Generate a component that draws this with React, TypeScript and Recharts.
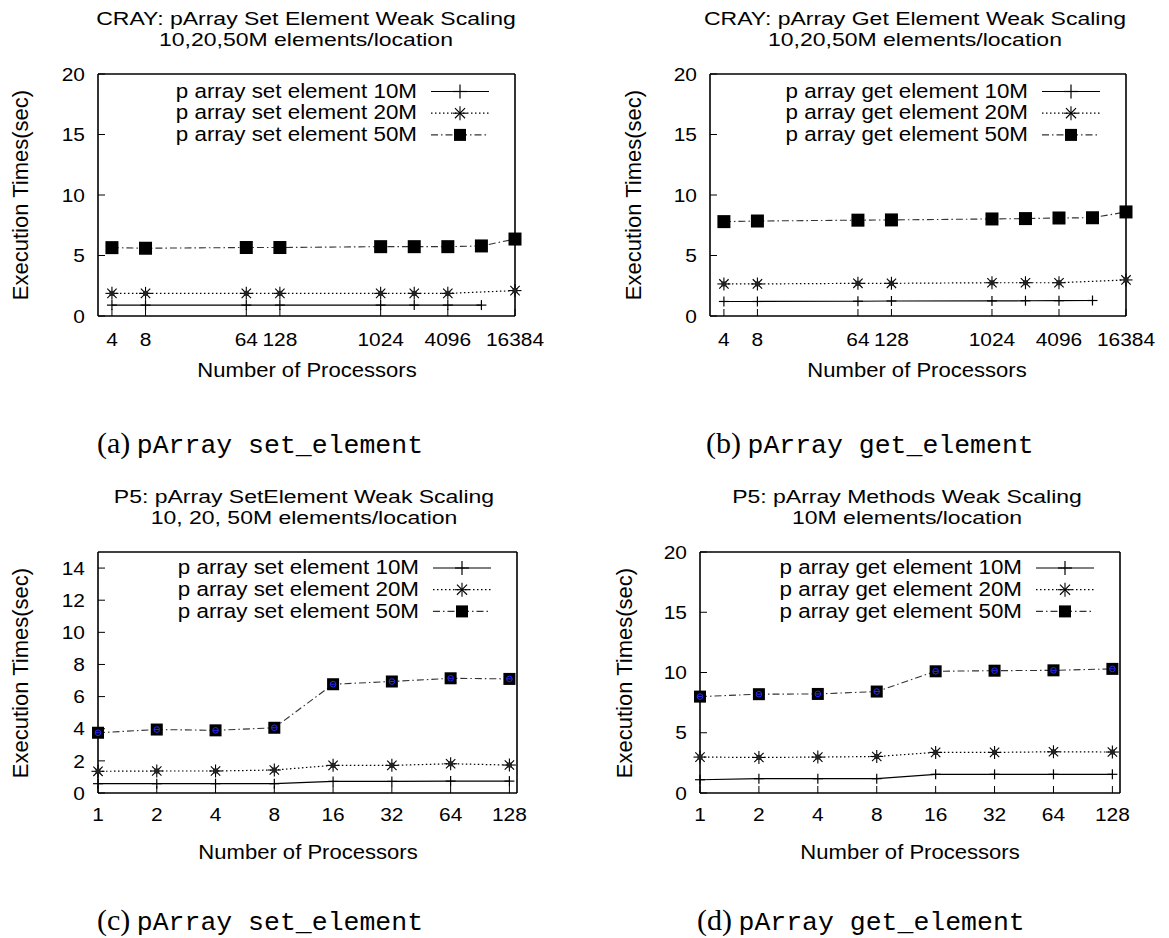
import React from "react";
import { LineChart, Line, XAxis, YAxis, Legend } from "recharts";

const FONT = '"Liberation Sans", Arial, Helvetica, sans-serif';
const SERIF = '"Liberation Serif", "DejaVu Serif", serif';
const MONO = '"Liberation Mono", "DejaVu Sans Mono", monospace';

// gnuplot text here is a bit wider than Liberation Sans, so widen it a little
const FS_TICK = 19;
const TICK_SX = 1.1;
const FS_TITLE = 18.7;
const TITLE_SX = 1.23;
const TITLE_LH = 21;
const FS_LEGEND = 19.3;
const LEGEND_SX = 1.16;
const LEGEND_LH = 21.7;
const FS_LABEL = 21;
const LABEL_SX = 1.05;

// CRAY runs (panels a, b)
const CRAY_PROCS = [4, 8, 64, 128, 1024, 2048, 4096, 8192, 16384];
const CRAY_PROCS_10M = [4, 8, 64, 128, 1024, 2048, 4096, 8192];
const CRAY_PROCS_20M = [4, 8, 64, 128, 1024, 2048, 4096, 16384];
const CRAY_TICKS = [4, 8, 64, 128, 1024, 4096, 16384];

const CRAY_SET_10M = [0.9, 0.9, 0.9, 0.9, 0.9, 0.9, 0.9, 0.9];
const CRAY_SET_20M = [1.87, 1.87, 1.87, 1.87, 1.87, 1.87, 1.87, 2.1];
const CRAY_SET_50M = [5.65, 5.6, 5.66, 5.66, 5.73, 5.73, 5.73, 5.79, 6.36];

const CRAY_GET_10M = [1.2, 1.2, 1.22, 1.24, 1.25, 1.26, 1.27, 1.28];
const CRAY_GET_20M = [2.65, 2.65, 2.7, 2.7, 2.75, 2.75, 2.75, 2.98];
const CRAY_GET_50M = [7.8, 7.85, 7.92, 7.94, 8.02, 8.05, 8.1, 8.12, 8.6];

// P5 runs (panels c, d)
const P5_PROCS = [1, 2, 4, 8, 16, 32, 64, 128];

const P5_SET_10M = [0.58, 0.58, 0.58, 0.58, 0.72, 0.72, 0.74, 0.74];
const P5_SET_20M = [1.35, 1.37, 1.37, 1.43, 1.72, 1.72, 1.82, 1.74];
const P5_SET_50M = [3.75, 3.95, 3.9, 4.06, 6.77, 6.94, 7.14, 7.1];

const P5_GET_10M = [1.1, 1.19, 1.19, 1.19, 1.55, 1.55, 1.55, 1.55];
const P5_GET_20M = [2.98, 2.95, 2.98, 3.03, 3.37, 3.37, 3.42, 3.4];
const P5_GET_50M = [8.0, 8.2, 8.22, 8.42, 10.1, 10.15, 10.18, 10.3];

const SET_LABELS = ["p array set element 10M", "p array set element 20M", "p array set element 50M"];
const GET_LABELS = ["p array get element 10M", "p array get element 20M", "p array get element 50M"];

const Y_TICKS_20 = [0, 5, 10, 15, 20];
const Y_TICKS_15 = [0, 2, 4, 6, 8, 10, 12, 14];

type Series = { label: string; procs: number[]; times: number[] };
type Panel = {
  id: string;
  plot: { left: number; top: number; right: number; bottom: number };
  xDomain: [number, number];
  xTicks: number[];
  yDomain: [number, number];
  yTicks: number[];
  series: Series[];
  title: string[];
  titleX: number;
  yLabelX: number;
  xLabelX: number;
  xLabelY: number;
  caption: [string, string];
  captionX: number;
  captionY: number;
  xTickMargin: number;
  legendTop: number;
  p5: boolean;
};

const PANELS: Panel[] = [
  {
    id: "a",
    plot: { left: 98, top: 74, right: 515, bottom: 316 },
    xDomain: [3, 16384],
    xTicks: CRAY_TICKS,
    yDomain: [0, 20],
    yTicks: Y_TICKS_20,
    series: [
      { label: SET_LABELS[0], procs: CRAY_PROCS_10M, times: CRAY_SET_10M },
      { label: SET_LABELS[1], procs: CRAY_PROCS_20M, times: CRAY_SET_20M },
      { label: SET_LABELS[2], procs: CRAY_PROCS, times: CRAY_SET_50M },
    ],
    title: ["CRAY: pArray Set Element Weak Scaling", "10,20,50M elements/location"],
    titleX: 306,
    yLabelX: 21,
    xLabelX: 307,
    xLabelY: 369,
    caption: ["(a)", "pArray set_element"],
    captionX: 97,
    captionY: 444,
    xTickMargin: 24,
    legendTop: 17.5,
    p5: false,
  },
  {
    id: "b",
    plot: { left: 710, top: 74, right: 1126, bottom: 316 },
    xDomain: [3, 16384],
    xTicks: CRAY_TICKS,
    yDomain: [0, 20],
    yTicks: Y_TICKS_20,
    series: [
      { label: GET_LABELS[0], procs: CRAY_PROCS_10M, times: CRAY_GET_10M },
      { label: GET_LABELS[1], procs: CRAY_PROCS_20M, times: CRAY_GET_20M },
      { label: GET_LABELS[2], procs: CRAY_PROCS, times: CRAY_GET_50M },
    ],
    title: ["CRAY: pArray Get Element Weak Scaling", "10,20,50M elements/location"],
    titleX: 915,
    yLabelX: 634,
    xLabelX: 917,
    xLabelY: 369,
    caption: ["(b)", "pArray get_element"],
    captionX: 706,
    captionY: 444,
    xTickMargin: 24,
    legendTop: 17.5,
    p5: false,
  },
  {
    id: "c",
    plot: { left: 98, top: 552, right: 517, bottom: 793 },
    xDomain: [1, 140],
    xTicks: P5_PROCS,
    yDomain: [0, 15],
    yTicks: Y_TICKS_15,
    series: [
      { label: SET_LABELS[0], procs: P5_PROCS, times: P5_SET_10M },
      { label: SET_LABELS[1], procs: P5_PROCS, times: P5_SET_20M },
      { label: SET_LABELS[2], procs: P5_PROCS, times: P5_SET_50M },
    ],
    title: ["P5: pArray SetElement Weak Scaling", "10, 20, 50M elements/location"],
    titleX: 304,
    yLabelX: 21,
    xLabelX: 308,
    xLabelY: 851,
    caption: ["(c)", "pArray set_element"],
    captionX: 97,
    captionY: 921,
    xTickMargin: 22,
    legendTop: 16,
    p5: true,
  },
  {
    id: "d",
    plot: { left: 700, top: 552, right: 1120, bottom: 793 },
    xDomain: [1, 140],
    xTicks: P5_PROCS,
    yDomain: [0, 20],
    yTicks: Y_TICKS_20,
    series: [
      { label: GET_LABELS[0], procs: P5_PROCS, times: P5_GET_10M },
      { label: GET_LABELS[1], procs: P5_PROCS, times: P5_GET_20M },
      { label: GET_LABELS[2], procs: P5_PROCS, times: P5_GET_50M },
    ],
    title: ["P5: pArray Methods Weak Scaling", "10M elements/location"],
    titleX: 907,
    yLabelX: 625,
    xLabelX: 910,
    xLabelY: 851,
    caption: ["(d)", "pArray get_element"],
    captionX: 697,
    captionY: 921,
    xTickMargin: 22,
    legendTop: 16,
    p5: true,
  },
];

const LINE_STYLES = [
  { stroke: "#000", strokeWidth: 1.2 },
  { stroke: "#000", strokeWidth: 1.2, strokeDasharray: "1.5 2.5" },
  { stroke: "#333", strokeWidth: 1.1, strokeDasharray: "7 3 1.5 3" },
];

const AXIS_LINE = { stroke: "#000", strokeWidth: 1.6 };
const TICK_LINE = { stroke: "#000", strokeWidth: 1 };

function StretchTick(props: any) {
  const { x, y, payload, textAnchor, verticalAnchor } = props;
  const dy = verticalAnchor === "start" ? "0.71em" : "0.355em";
  return (
    <g transform={`translate(${x},${y}) scale(${TICK_SX},1)`}>
      <text x={0} y={0} dy={dy} textAnchor={textAnchor} fill="#000" fontSize={FS_TICK} fontFamily={FONT}>
        {payload.value}
      </text>
    </g>
  );
}

function Plus({ cx, cy, r }: { cx: number; cy: number; r: number }) {
  return (
    <g stroke="#000" strokeWidth={1.2}>
      <line x1={cx - r} y1={cy} x2={cx + r} y2={cy} />
      <line x1={cx} y1={cy - r} x2={cx} y2={cy + r} />
    </g>
  );
}

function Star({ cx, cy, r, core }: { cx: number; cy: number; r: number; core: boolean }) {
  const d = r * 0.72;
  return (
    <g stroke="#000" strokeWidth={1.1}>
      <line x1={cx - r} y1={cy} x2={cx + r} y2={cy} />
      <line x1={cx} y1={cy - r} x2={cx} y2={cy + r} />
      <line x1={cx - d} y1={cy - d} x2={cx + d} y2={cy + d} />
      <line x1={cx - d} y1={cy + d} x2={cx + d} y2={cy - d} />
      {core && <rect x={cx - 2.5} y={cy - 2.5} width={5} height={5} fill="#222" stroke="none" />}
    </g>
  );
}

function Square({ cx, cy, s, theta }: { cx: number; cy: number; s: number; theta: boolean }) {
  return (
    <g>
      <rect x={cx - s / 2} y={cy - s / 2} width={s} height={s} fill="#000" />
      {theta && (
        <g stroke="#2a2aff" strokeWidth={1} fill="none">
          <circle cx={cx} cy={cy} r={2.8} />
          <line x1={cx - 2.4} y1={cy} x2={cx + 2.4} y2={cy} />
        </g>
      )}
    </g>
  );
}

function marker(i: number, cx: number, cy: number, p5: boolean, legend: boolean, key?: string) {
  if (i === 0) return <Plus key={key} cx={cx} cy={cy} r={legend ? 7 : 5} />;
  if (i === 1) return <Star key={key} cx={cx} cy={cy} r={legend ? 7 : 6.5} core={!legend} />;
  return <Square key={key} cx={cx} cy={cy} s={legend ? 12 : p5 ? 12 : 13} theta={p5 && !legend} />;
}

// chart box offsets around the plot area
const PAD_L = 70;
const PAD_T = 30;
const PAD_R = 40;
const PAD_B = 60;

function LegendBox({ cfg, W, H }: { cfg: Panel; W: number; H: number }) {
  const R = PAD_L + (cfg.plot.right - cfg.plot.left);
  const rowY = (i: number) => PAD_T + cfg.legendTop + i * LEGEND_LH;
  return (
    <div style={{ position: "relative", width: W, height: H, pointerEvents: "none" }}>
      {cfg.series.map((s, i) => (
        <div
          key={s.label}
          style={{
            position: "absolute",
            left: 0,
            width: R - 98,
            top: rowY(i) - LEGEND_LH / 2,
            height: LEGEND_LH,
            lineHeight: `${LEGEND_LH}px`,
            textAlign: "right",
            fontFamily: FONT,
            fontSize: FS_LEGEND,
            color: "#000",
            whiteSpace: "nowrap",
            transformOrigin: "right center",
            transform: `scaleX(${LEGEND_SX})`,
          }}
        >
          {s.label}
        </div>
      ))}
      <svg width={W} height={H} style={{ position: "absolute", left: 0, top: 0, overflow: "visible" }}>
        {cfg.series.map((s, i) => (
          <g key={s.label}>
            <line x1={R - 84} x2={R - 26} y1={rowY(i)} y2={rowY(i)} {...LINE_STYLES[i]} />
            {marker(i, R - 55, rowY(i), cfg.p5, true)}
          </g>
        ))}
      </svg>
    </div>
  );
}

function Txt({
  x,
  y,
  size,
  sx = 1,
  family = FONT,
  rotate = false,
  children,
}: {
  x: number;
  y: number;
  size: number;
  sx?: number;
  family?: string;
  rotate?: boolean;
  children: React.ReactNode;
}) {
  return (
    <div
      style={{
        position: "absolute",
        left: x,
        top: y,
        fontSize: size,
        fontFamily: family,
        lineHeight: 1,
        whiteSpace: "nowrap",
        color: "#000",
        transform: `translate(-50%, -50%)${rotate ? " rotate(-90deg)" : ""} scaleX(${sx})`,
      }}
    >
      {children}
    </div>
  );
}

function ChartPanel({ cfg }: { cfg: Panel }) {
  const { plot } = cfg;
  const pw = plot.right - plot.left;
  const ph = plot.bottom - plot.top;
  const W = pw + PAD_L + PAD_R;
  const H = ph + PAD_T + PAD_B;
  const rows = cfg.series.map((s) => s.procs.map((p, i) => ({ p, t: s.times[i] })));

  return (
    <>
      <div style={{ position: "absolute", left: plot.left - PAD_L, top: plot.top - PAD_T }}>
        <LineChart
          width={W}
          height={H}
          margin={{ top: PAD_T - 1, right: PAD_R - 1, bottom: 0, left: 0 }}
          style={{ overflow: "visible" }}
        >
          <XAxis
            xAxisId={0}
            dataKey="p"
            type="number"
            scale="log"
            domain={cfg.xDomain}
            ticks={cfg.xTicks}
            interval={0}
            height={PAD_B}
            tickSize={-7}
            tickMargin={cfg.xTickMargin}
            tick={<StretchTick />}
            axisLine={AXIS_LINE}
            tickLine={TICK_LINE}
          />
          <XAxis
            xAxisId="top"
            orientation="top"
            type="number"
            scale="log"
            domain={cfg.xDomain}
            ticks={cfg.xTicks}
            interval={0}
            height={1}
            tickSize={-7}
            tick={false}
            axisLine={AXIS_LINE}
            tickLine={TICK_LINE}
          />
          <YAxis
            yAxisId={0}
            type="number"
            domain={cfg.yDomain}
            ticks={cfg.yTicks}
            interval={0}
            width={PAD_L}
            tickSize={-7}
            tickMargin={20}
            tick={<StretchTick />}
            axisLine={AXIS_LINE}
            tickLine={TICK_LINE}
          />
          <YAxis
            yAxisId="right"
            orientation="right"
            type="number"
            domain={cfg.yDomain}
            ticks={cfg.yTicks}
            interval={0}
            width={1}
            tickSize={-7}
            tick={false}
            axisLine={AXIS_LINE}
            tickLine={TICK_LINE}
          />
          {cfg.series.map((s, i) => (
            <Line
              key={s.label}
              name={s.label}
              data={rows[i]}
              dataKey="t"
              type="linear"
              {...LINE_STYLES[i]}
              dot={(d: any) => marker(i, d.cx, d.cy, cfg.p5, false, `${cfg.id}-${i}-${d.index}`)}
              activeDot={false}
              isAnimationActive={false}
            />
          ))}
          <Legend
            layout="vertical"
            align="center"
            verticalAlign="middle"
            wrapperStyle={{ left: 0, top: 0 }}
            content={() => <LegendBox cfg={cfg} W={W} H={H} />}
          />
        </LineChart>
      </div>
      {cfg.title.map((line, i) => (
        <Txt key={line} x={cfg.titleX} y={plot.top - 55 + i * TITLE_LH} size={FS_TITLE} sx={TITLE_SX}>
          {line}
        </Txt>
      ))}
      <Txt x={cfg.yLabelX} y={(plot.top + plot.bottom) / 2} size={22}>
        <div style={{ transform: "rotate(-90deg)" }}>Execution Times(sec)</div>
      </Txt>
      <Txt x={cfg.xLabelX} y={cfg.xLabelY} size={FS_LABEL} sx={LABEL_SX}>
        Number of Processors
      </Txt>
      <div
        style={{
          position: "absolute",
          left: cfg.captionX,
          top: cfg.captionY,
          transform: "translateY(-50%)",
          whiteSpace: "nowrap",
          lineHeight: 1,
          color: "#000",
        }}
      >
        <span style={{ fontFamily: SERIF, fontSize: 30 }}>{cfg.caption[0]}</span>
        <span style={{ fontFamily: SERIF, fontSize: 26 }}> </span>
        <span style={{ fontFamily: MONO, fontSize: 26.5 }}>{cfg.caption[1]}</span>
      </div>
    </>
  );
}

export default function App() {
  return (
    <div
      style={{
        position: "absolute",
        left: 0,
        top: 0,
        width: 1169,
        height: 938,
        background: "#fff",
        overflow: "hidden",
      }}
    >
      {PANELS.map((p) => (
        <ChartPanel key={p.id} cfg={p} />
      ))}
    </div>
  );
}
